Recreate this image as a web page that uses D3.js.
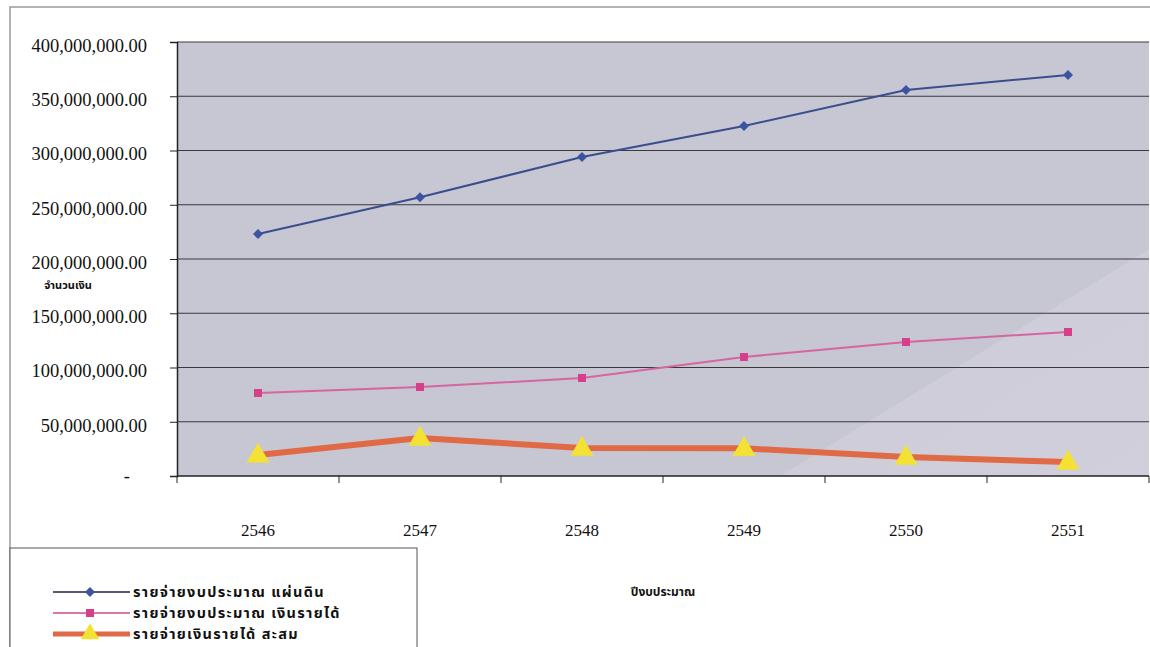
<!DOCTYPE html>
<html>
<head>
<meta charset="utf-8">
<script src="https://cdn.jsdelivr.net/npm/d3@7"></script>
<style>
  html, body { margin: 0; padding: 0; background: #ffffff; }
  svg { display: block; }
  .serif { font-family: "Liberation Serif", "Times New Roman", serif; }
  .thai { font-family: "Noto Sans Thai", "Loma", "Garuda", "Norasi", "Tlwg Typo", "Noto Sans", "DejaVu Sans", sans-serif; }
</style>
</head>
<body>
<svg id="chart" width="1150" height="647"></svg>
<script>
// ---- data ----
const years = ["2546", "2547", "2548", "2549", "2550", "2551"];
const budgetLand = [223000000, 257000000, 294000000, 322600000, 355800000, 369600000];
const budgetIncome = [76500000, 82000000, 90300000, 109700000, 123500000, 132700000];
const incomeAccum = [19400000, 35000000, 25800000, 25500000, 17500000, 12900000];
const yTicks = [0, 50000000, 100000000, 150000000, 200000000, 250000000, 300000000, 350000000, 400000000];
const seriesNames = ["รายจ่ายงบประมาณ แผ่นดิน", "รายจ่ายงบประมาณ เงินรายได้", "รายจ่ายเงินรายได้ สะสม"];
const yTitle = "จำนวนเงิน";
const xTitle = "ปีงบประมาณ";

const svg = d3.select("#chart");
const plot = { left: 177, right: 1149, top: 42, bottom: 476 };

const x = d3.scaleBand().domain(years).range([plot.left, plot.right]).padding(0);
const cx = d => x(d) + x.bandwidth() / 2;
const y = d3.scaleLinear().domain([0, 400000000]).range([plot.bottom, plot.top]);

// gradient mimicking the lighter lower-right part of the plot area
const defs = svg.append("defs");
const grad = defs.append("linearGradient").attr("id", "bg").attr("gradientUnits", "userSpaceOnUse")
  .attr("x1", 667).attr("y1", 292).attr("x2", 893).attr("y2", 660);
grad.append("stop").attr("offset", 0).attr("stop-color", "#c7c6d3");
grad.append("stop").attr("offset", 0.5).attr("stop-color", "#c7c6d3");
grad.append("stop").attr("offset", 0.5).attr("stop-color", "#cecdd9");
grad.append("stop").attr("offset", 1).attr("stop-color", "#d0cfdb");

// outer chart border
svg.append("path").attr("d", `M10,647 V7 H1150`).attr("fill", "none").attr("stroke", "#9a9a9a").attr("stroke-width", 1.5);

// plot area
svg.append("rect").attr("x", plot.left).attr("y", plot.top)
  .attr("width", plot.right - plot.left).attr("height", plot.bottom - plot.top)
  .attr("fill", "url(#bg)");

// gridlines
svg.append("g").selectAll("line").data(yTicks.filter(d => d > 0)).join("line")
  .attr("x1", plot.left).attr("x2", plot.right)
  .attr("y1", d => y(d)).attr("y2", d => y(d))
  .attr("stroke", "#3a3a3a").attr("stroke-width", 1);

// y axis
const yAxis = svg.append("g").attr("transform", `translate(${plot.left},0)`)
  .call(d3.axisLeft(y).tickValues(yTicks).tickSize(7).tickPadding(23)
    .tickFormat(d => d === 0 ? "-" : d3.format(",.2f")(d)));
yAxis.select(".domain").attr("stroke", "#222").attr("stroke-width", 1.5);
yAxis.selectAll(".tick line").attr("stroke", "#222");
yAxis.selectAll(".tick text").attr("class", "serif").attr("font-size", 18.5).attr("fill", "#111")
  .attr("dy", "0.5em");
yAxis.selectAll(".tick").filter(d => d === 0).select("text").attr("x", -47).attr("dy", "0.3em");

// x axis
const xAxis = svg.append("g").attr("transform", `translate(0,${plot.bottom})`);
xAxis.append("line").attr("x1", plot.left).attr("x2", plot.right).attr("stroke", "#222").attr("stroke-width", 1.5);
xAxis.selectAll("line.tk").data(years.concat(["end"])).join("line").attr("class", "tk")
  .attr("x1", (d, i) => i < years.length ? x(d) : plot.right)
  .attr("x2", (d, i) => i < years.length ? x(d) : plot.right)
  .attr("y1", 0).attr("y2", 7).attr("stroke", "#222");
xAxis.selectAll("text").data(years).join("text").attr("class", "serif")
  .attr("x", d => cx(d)).attr("y", 60).attr("text-anchor", "middle")
  .attr("font-size", 17).attr("fill", "#111").text(d => d);

// axis titles
svg.append("text").attr("class", "thai").attr("x", 68).attr("y", 289).attr("text-anchor", "middle")
  .attr("font-size", 11).attr("font-weight", "bold").attr("fill", "#111").text(yTitle);
svg.append("text").attr("class", "thai").attr("x", 663).attr("y", 596).attr("text-anchor", "middle")
  .attr("font-size", 12).attr("font-weight", "bold").attr("fill", "#111").text(xTitle);

// series
const line = d3.line().x((d, i) => cx(years[i])).y(d => y(d));

svg.append("path").datum(incomeAccum).attr("d", line).attr("fill", "none")
  .attr("stroke", "#e06a45").attr("stroke-width", 6).attr("stroke-linejoin", "round");
svg.append("path").datum(budgetIncome).attr("d", line).attr("fill", "none")
  .attr("stroke", "#d566a0").attr("stroke-width", 2);
svg.append("path").datum(budgetLand).attr("d", line).attr("fill", "none")
  .attr("stroke", "#3b4d8c").attr("stroke-width", 2);

const diamond = d3.symbol().type(d3.symbolSquare).size(50);
const square = d3.symbol().type(d3.symbolSquare).size(64);
const triangle = d3.symbol().type(d3.symbolTriangle).size(230);

svg.append("g").selectAll("path").data(budgetLand).join("path")
  .attr("transform", (d, i) => `translate(${cx(years[i])},${y(d)}) rotate(45)`)
  .attr("d", diamond).attr("fill", "#3a55a0");
svg.append("g").selectAll("path").data(budgetIncome).join("path")
  .attr("transform", (d, i) => `translate(${cx(years[i])},${y(d)})`)
  .attr("d", square).attr("fill", "#d6408a");
svg.append("g").selectAll("path").data(incomeAccum).join("path")
  .attr("transform", (d, i) => `translate(${cx(years[i])},${y(d) + 1})`)
  .attr("d", triangle).attr("fill", "#f3e234");

// legend
const lg = svg.append("g");
lg.append("rect").attr("x", 10).attr("y", 548).attr("width", 407).attr("height", 110)
  .attr("fill", "#fff").attr("stroke", "#555").attr("stroke-width", 1);
const legendItems = [
  { name: seriesNames[0], color: "#1e2340", width: 1.5, sym: diamond, rot: 45, fill: "#3a55a0" },
  { name: seriesNames[1], color: "#d878a8", width: 2, sym: square, rot: 0, fill: "#d6408a" },
  { name: seriesNames[2], color: "#e06a45", width: 5, sym: d3.symbol().type(d3.symbolTriangle).size(150), rot: 0, fill: "#f3e234" }
];
const rows = lg.selectAll("g.row").data(legendItems).join("g").attr("class", "row")
  .attr("transform", (d, i) => `translate(0,${592 + i * 21})`);
rows.append("line").attr("x1", 53).attr("x2", 130).attr("y1", 0).attr("y2", 0)
  .attr("stroke", d => d.color).attr("stroke-width", d => d.width);
rows.append("path").attr("transform", d => `translate(90,0) rotate(${d.rot})`).attr("d", d => d.sym()).attr("fill", d => d.fill);
rows.append("text").attr("class", "thai").attr("x", 133).attr("y", 0).attr("dy", "0.33em")
  .attr("font-size", 14.5).attr("font-weight", "bold").attr("letter-spacing", 1.3)
  .attr("fill", "#111").text(d => d.name);
</script>
</body>
</html>
